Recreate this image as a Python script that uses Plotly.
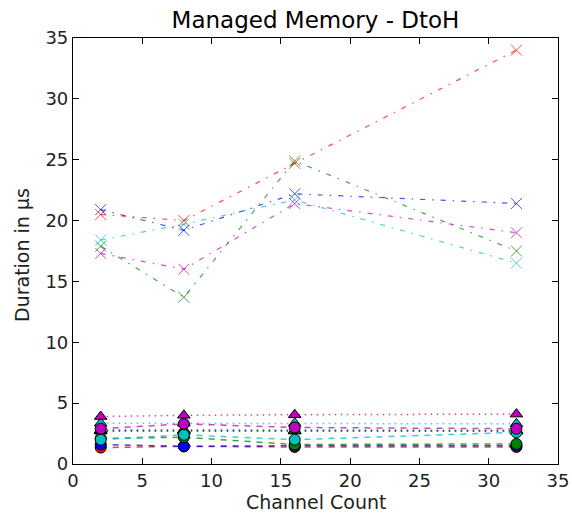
import plotly.graph_objects as go

channels = [2, 8, 16, 32]

# x markers, dash-dot lines
red_x = [20.5, 20.0, 24.7, 34.0]
blue_x = [20.9, 19.2, 22.2, 21.4]
green_x = [17.9, 13.7, 24.9, 17.5]
cyan_x = [18.4, 19.7, 21.7, 16.5]
magenta_x = [17.3, 16.0, 21.4, 19.0]

# circle markers, dashed lines
red_o = [1.35, 1.45, 1.4, 1.4]
blue_o = [1.6, 1.45, 1.5, 1.5]
green_o = [2.1, 2.2, 1.6, 1.65]
cyan_o = [2.0, 2.4, 2.0, 2.6]
magenta_o = [2.9, 3.3, 3.0, 2.9]

# triangle markers, dotted lines
red_t = [2.7, 2.7, 2.7, 2.7]
blue_t = [2.75, 2.75, 2.75, 2.75]
green_t = [2.8, 2.8, 2.75, 2.75]
cyan_t = [3.35, 3.35, 3.35, 3.3]
magenta_t = [3.9, 4.0, 4.05, 4.1]

tick_vals = [0, 5, 10, 15, 20, 25, 30, 35]

colors = {
    "r": (255, 0, 0),
    "b": (0, 0, 255),
    "g": (0, 128, 0),
    "c": (0, 191, 191),
    "m": (191, 0, 191),
}

series = [
    ("r", red_x, red_o, red_t),
    ("b", blue_x, blue_o, blue_t),
    ("g", green_x, green_o, green_t),
    ("c", cyan_x, cyan_o, cyan_t),
    ("m", magenta_x, magenta_o, magenta_t),
]

def rgba(c, a):
    return f"rgba({c[0]},{c[1]},{c[2]},{a})"

fig = go.Figure()
for key, xs, os_, ts in series:
    c = colors[key]
    fig.add_trace(go.Scatter(
        x=channels, y=xs, mode="lines+markers",
        line=dict(color=rgba(c, 0.7), width=1.2, dash="5px,7px,1.5px,7px"),
        marker=dict(symbol="x-thin", size=11, color=rgba(c, 0.7),
                    line=dict(color=rgba(c, 0.7), width=1)),
        showlegend=False))
    fig.add_trace(go.Scatter(
        x=channels, y=os_, mode="lines+markers",
        line=dict(color=rgba(c, 0.75), width=1.5, dash="6px,6px"),
        marker=dict(symbol="circle", size=11, color=rgba(c, 1),
                    line=dict(color="black", width=1)),
        showlegend=False))
    fig.add_trace(go.Scatter(
        x=channels, y=ts, mode="lines+markers",
        line=dict(color=rgba(c, 0.75), width=1.5, dash="1.5px,4.5px"),
        marker=dict(symbol="triangle-up", size=11, color=rgba(c, 1),
                    line=dict(color="black", width=1)),
        showlegend=False))

axis_common = dict(
    showline=True, linecolor="black", linewidth=1.2, mirror="allticks",
    ticks="inside", ticklen=6, tickcolor="black", tickwidth=1,
    showgrid=False, zeroline=False, automargin=False,
    tickfont=dict(family="DejaVu Sans", size=18, color="#222"),
)

label_font = dict(family="DejaVu Sans", size=19, color="#222")

fig.update_layout(
    width=572, height=514,
    margin=dict(l=73, r=14, t=38, b=50),
    paper_bgcolor="white", plot_bgcolor="white",
    title=dict(text="Managed Memory - DtoH", x=(73 + 558) / 2 / 572, xanchor="center",
               y=1 - 20 / 514, yanchor="middle",
               font=dict(family="DejaVu Sans", size=23, color="black")),
    xaxis=dict(range=[0, 35], tickvals=tick_vals, **axis_common),
    yaxis=dict(range=[0, 35], tickvals=tick_vals, **axis_common),
    annotations=[
        dict(text="Channel Count", xref="paper", yref="paper", x=0.5, y=0,
             xanchor="center", yanchor="middle", yshift=-38, showarrow=False,
             font=label_font),
        dict(text="Duration in µs", xref="paper", yref="paper", x=0, y=0.5,
             xanchor="center", yanchor="middle", xshift=-51, yshift=-4,
             textangle=-90, showarrow=False, font=label_font),
    ],
)

fig.write_html("out.html")
